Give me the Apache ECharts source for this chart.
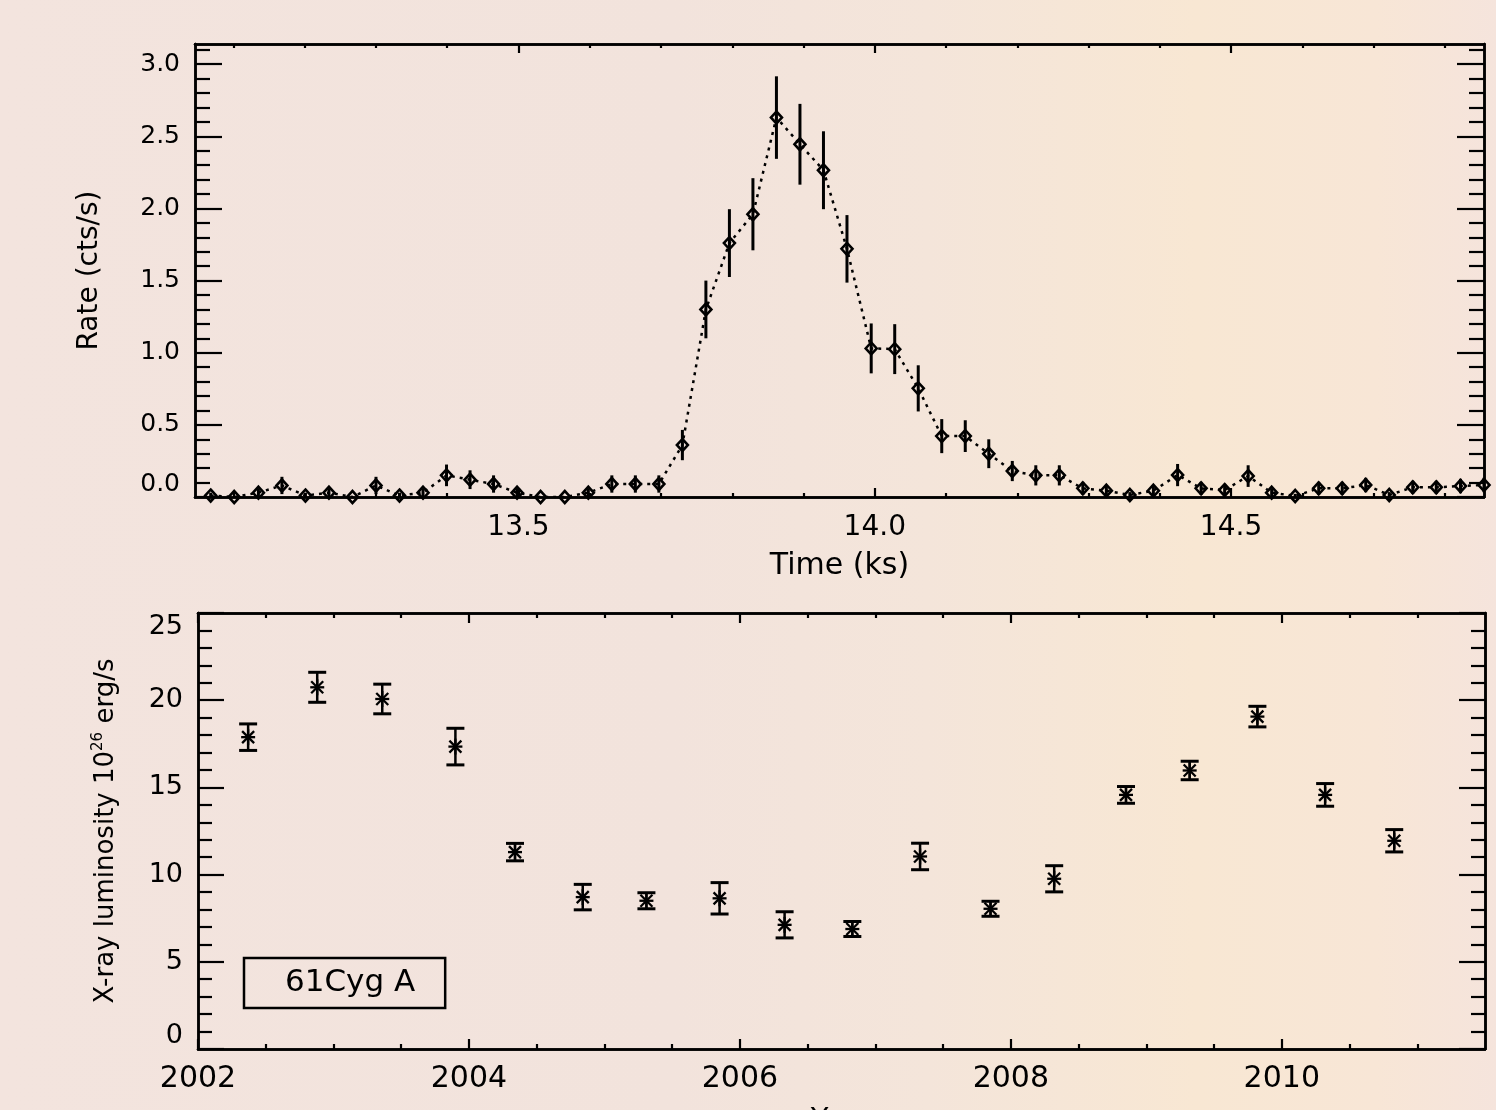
<!DOCTYPE html>
<html><head><meta charset="utf-8">
<script src="https://cdn.jsdelivr.net/npm/echarts@6/dist/echarts.min.js"></script>
<style>
html,body{margin:0;padding:0;}
#chart{width:1496px;height:1110px;background:linear-gradient(90deg,#f3e4de 0%,#f2e3dc 45%,#f4e5da 62%,#f8e7d3 80%,#f8e6d6 92%,#f5e4dc 100%);}
</style></head><body><div id="chart"></div>
<script>
// ---- Top panel: flare light curve ----
const timeKs = [13.068,13.101,13.135,13.168,13.201,13.234,13.267,13.300,13.333,13.366,
  13.399,13.432,13.465,13.498,13.531,13.565,13.598,13.631,13.664,13.697,
  13.730,13.763,13.796,13.829,13.862,13.895,13.928,13.961,13.995,14.028,
  14.061,14.094,14.127,14.160,14.193,14.226,14.259,14.292,14.325,14.358,
  14.391,14.425,14.458,14.491,14.524,14.557,14.590,14.623,14.656,14.689,
  14.722,14.755,14.788,14.822,14.855];
const rate = [0.01,0.00,0.03,0.08,0.01,0.03,0.00,0.08,0.01,0.03,
  0.15,0.12,0.09,0.03,0.00,0.00,0.03,0.09,0.09,0.09,
  0.36,1.30,1.76,1.96,2.63,2.445,2.265,1.72,1.03,1.025,
  0.753,0.422,0.422,0.30,0.18,0.15,0.15,0.06,0.044,0.014,
  0.044,0.152,0.06,0.048,0.145,0.03,0.007,0.06,0.06,0.083,
  0.014,0.067,0.067,0.076,0.083];
const rateErr = [0.02,0.0,0.03,0.06,0.02,0.03,0.0,0.06,0.02,0.03,
  0.075,0.065,0.06,0.03,0.0,0.0,0.03,0.06,0.06,0.06,
  0.105,0.20,0.235,0.25,0.286,0.28,0.27,0.234,0.173,0.173,
  0.16,0.118,0.11,0.10,0.07,0.07,0.07,0.045,0.04,0.02,
  0.04,0.077,0.045,0.04,0.075,0.03,0.015,0.045,0.045,0.05,
  0.02,0.045,0.045,0.05,0.05];
const timeMajorTicks = [13.5,14.0,14.5];
const timeMinorTicks = [13.1,13.2,13.3,13.4,13.6,13.7,13.8,13.9,14.1,14.2,14.3,14.4,14.6,14.7,14.8];
const rateMajorTicks = [0,0.5,1.0,1.5,2.0,2.5,3.0];
const rateMinorTicks = [0.1,0.2,0.3,0.4,0.6,0.7,0.8,0.9,1.1,1.2,1.3,1.4,1.6,1.7,1.8,1.9,2.1,2.2,2.3,2.4,2.6,2.7,2.8,2.9,3.1];

// ---- Bottom panel: long-term X-ray luminosity ----
const years = [2002.37,2002.88,2003.36,2003.90,2004.34,2004.84,2005.31,2005.85,2006.33,
  2006.83,2007.33,2007.85,2008.32,2008.85,2009.32,2009.82,2010.32,2010.83];
const lum = [17.88,20.74,20.07,17.34,11.29,8.71,8.50,8.64,7.12,
  6.88,11.04,8.04,9.76,14.57,15.97,19.06,14.57,11.94];
const lumErr = [0.76,0.86,0.85,1.05,0.50,0.73,0.46,0.90,0.75,
  0.43,0.76,0.43,0.75,0.48,0.53,0.59,0.65,0.64];
const yearMajorTicks = [2002,2004,2006,2008,2010];
const yearMinorTicks = [2002.5,2003,2003.5,2004.5,2005,2005.5,2006.5,2007,2007.5,2008.5,2009,2009.5,2010.5,2011];
const lumMajorTicks = [0,5,10,15,20,25];
const lumMinorTicks = [1,2,3,4,6,7,8,9,11,12,13,14,16,17,18,19,21,22,23,24];

const FONT = 'DejaVu Sans';
const INK = '#000';

function ax(grid, pos, min, max, ticks, len, extra) {
  return Object.assign({
    type: 'value', gridIndex: grid, position: pos, min: min, max: max,
    axisLine: {show: true, onZero: false, lineStyle: {color: INK, width: 2.5}},
    axisTick: {show: true, inside: true, length: len, customValues: ticks, lineStyle: {color: INK, width: 2.2}},
    axisLabel: {show: false}, splitLine: {show: false}
  }, extra || {});
}

const T0 = 13.046, T1 = 14.855, R1 = 3.14;
const Y0 = 2002, Y1 = 2011.5;

// grid 0: top panel major ticks, grid 1: top panel minor ticks
// grid 2: bottom panel major ticks, grid 3: bottom panel minor ticks
const xAxes = [
  ax(0, 'bottom', T0, T1, timeMajorTicks, 9, {
    axisLabel: {show: true, customValues: timeMajorTicks, margin: 17, color: INK, fontFamily: FONT, fontSize: 28,
      formatter: v => v.toFixed(1)},
    name: 'Time (ks)', nameLocation: 'middle', nameGap: 54,
    nameTextStyle: {color: INK, fontFamily: FONT, fontSize: 30}
  }),
  ax(0, 'top', T0, T1, timeMajorTicks, 9),
  ax(1, 'bottom', T0, T1, timeMinorTicks, 4),
  ax(1, 'top', T0, T1, timeMinorTicks, 4),
  ax(2, 'bottom', Y0, Y1, yearMajorTicks, 10, {
    axisLabel: {show: true, customValues: yearMajorTicks, margin: 15, color: INK, fontFamily: FONT, fontSize: 30,
      formatter: v => String(Math.round(v))},
    name: 'Year', nameLocation: 'middle', nameGap: 57,
    nameTextStyle: {color: INK, fontFamily: FONT, fontSize: 29}
  }),
  ax(2, 'top', Y0, Y1, yearMajorTicks, 10),
  ax(3, 'bottom', Y0, Y1, yearMinorTicks, 5),
  ax(3, 'top', Y0, Y1, yearMinorTicks, 5)
];

const yAxes = [
  ax(0, 'left', 0, R1, rateMajorTicks, 27, {
    axisLabel: {show: true, customValues: rateMajorTicks, margin: 15, color: INK, fontFamily: FONT, fontSize: 25,
      verticalAlignMinLabel: 'bottom', formatter: v => v.toFixed(1)},
    name: 'Rate (cts/s)', nameLocation: 'middle', nameGap: 91, nameRotate: 90,
    nameTextStyle: {color: INK, fontFamily: FONT, fontSize: 28}
  }),
  ax(0, 'right', 0, R1, rateMajorTicks, 27),
  ax(1, 'left', 0, R1, rateMinorTicks, 15),
  ax(1, 'right', 0, R1, rateMinorTicks, 15),
  ax(2, 'left', 0, 25, lumMajorTicks, 26, {
    axisLabel: {show: true, customValues: lumMajorTicks, margin: 15, color: INK, fontFamily: FONT, fontSize: 27,
      verticalAlignMinLabel: 'bottom', verticalAlignMaxLabel: 'top', formatter: v => String(v)},
    name: '{a|X-ray luminosity 10}{sup|26}{a| erg/s}', nameLocation: 'middle', nameGap: 77, nameRotate: 90,
    nameTextStyle: {color: INK, fontFamily: FONT, fontSize: 26,
      rich: {a: {fontFamily: FONT, fontSize: 26, lineHeight: 30, color: INK},
             sup: {fontFamily: FONT, fontSize: 15, lineHeight: 15, verticalAlign: 'top', color: INK}}}
  }),
  ax(2, 'right', 0, 25, lumMajorTicks, 26),
  ax(3, 'left', 0, 25, lumMinorTicks, 14),
  ax(3, 'right', 0, 25, lumMinorTicks, 14)
];

const lcData = timeKs.map((t, i) => [t, rate[i]]);
const lcErrData = timeKs.map((t, i) => [t, rate[i], rateErr[i]]);
const lumData = years.map((y, i) => [y, lum[i], lumErr[i]]);

const topRect = {left: 195, right: 12, top: 44, bottom: 613, outerBoundsMode: 'none', containLabel: false};
const botRect = {left: 198, right: 11, top: 613, bottom: 61, outerBoundsMode: 'none', containLabel: false};

const option = {
  backgroundColor: 'transparent',
  animation: false,
  grid: [topRect, Object.assign({}, topRect), botRect, Object.assign({}, botRect)],
  xAxis: xAxes,
  yAxis: yAxes,
  legend: {
    data: ['61Cyg A'], left: 244, top: 958, orient: 'horizontal',
    itemWidth: 0, itemHeight: 0, icon: 'none',
    borderColor: INK, borderWidth: 2.5, borderRadius: 0,
    padding: [9, 30, 9, 36],
    textStyle: {color: INK, fontFamily: FONT, fontSize: 31, lineHeight: 32},
    selectedMode: false
  },
  series: [
    {
      type: 'custom', name: 'rate errors', xAxisIndex: 0, yAxisIndex: 0, clip: true,
      data: lcErrData, encode: {x: 0, y: 1},
      renderItem: function (params, api) {
        const x = api.value(0), y = api.value(1), e = api.value(2);
        const p1 = api.coord([x, y - e]), p2 = api.coord([x, y + e]);
        return {type: 'line', shape: {x1: p1[0], y1: p1[1], x2: p2[0], y2: p2[1]},
          style: {stroke: INK, lineWidth: 3}};
      }
    },
    {
      type: 'line', name: 'rate', xAxisIndex: 0, yAxisIndex: 0, data: lcData,
      symbol: 'diamond', symbolSize: [11, 12], showAllSymbol: true,
      lineStyle: {color: INK, width: 2.5, type: [3, 5]},
      itemStyle: {color: 'rgba(0,0,0,0)', borderColor: INK, borderWidth: 2.6},
      emphasis: {disabled: true}, z: 3
    },
    {
      type: 'custom', name: '61Cyg A', xAxisIndex: 4, yAxisIndex: 4, clip: true,
      data: lumData, encode: {x: 0, y: 1},
      itemStyle: {color: INK},
      renderItem: function (params, api) {
        const x = api.value(0), y = api.value(1), e = api.value(2);
        const c = api.coord([x, y]);
        const lo = api.coord([x, y - e]), hi = api.coord([x, y + e]);
        const cap = 9, s = 8, d = 6;
        const L = (x1, y1, x2, y2, w) => ({type: 'line', shape: {x1, y1, x2, y2}, style: {stroke: INK, lineWidth: w}});
        return {type: 'group', children: [
          L(lo[0], lo[1], hi[0], hi[1], 2.5),
          L(lo[0] - cap, lo[1], lo[0] + cap, lo[1], 3),
          L(hi[0] - cap, hi[1], hi[0] + cap, hi[1], 3),
          L(c[0], c[1] - s, c[0], c[1] + s, 2.3),
          L(c[0] - d, c[1] - d, c[0] + d, c[1] + d, 2.3),
          L(c[0] - d, c[1] + d, c[0] + d, c[1] - d, 2.3),
          L(c[0] - s + 1, c[1], c[0] + s - 1, c[1], 2.3)
        ]};
      }
    }
  ]
};

const chart = echarts.init(document.getElementById('chart'), null, {renderer: 'canvas'});
chart.setOption(option);
</script>
</body></html>
